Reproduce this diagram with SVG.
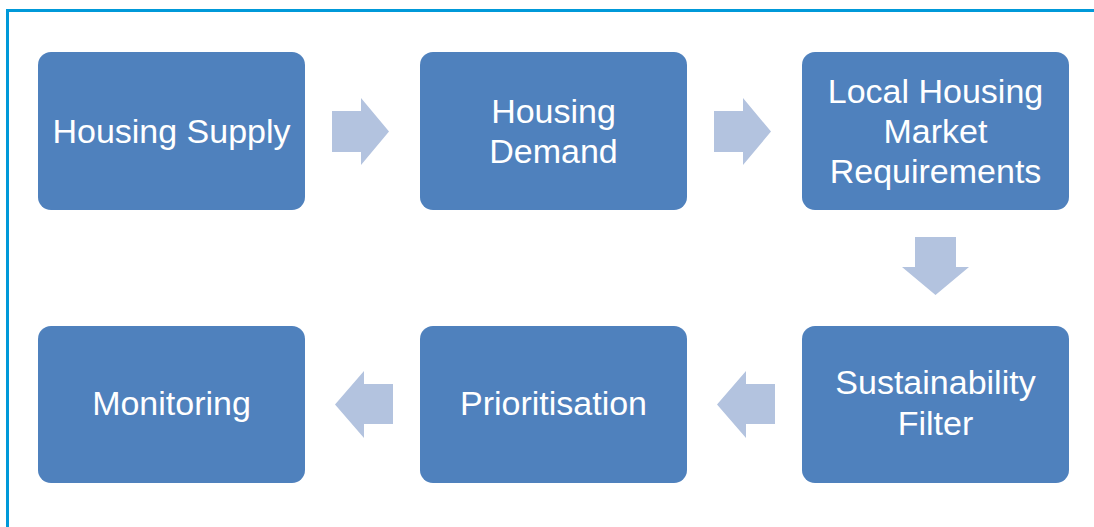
<svg xmlns="http://www.w3.org/2000/svg" width="1094" height="527" viewBox="0 0 1094 527">
<style>
.box{fill:#4F81BD;}
.arr{fill:#B3C3DF;}
.t{fill:#FFFFFF;font-family:"Liberation Sans",Arial,sans-serif;font-size:34px;text-anchor:middle;}
</style>
<rect width="1094" height="527" fill="#FFFFFF"/>
<path d="M7.5,527 V10.5 H1094" fill="none" stroke="#0099D9" stroke-width="3"/>
<g id="connectors">
<polygon class="arr" points="332,111 361,111 361,98 389,131.5 361,165 361,152 332,152"/>
<polygon class="arr" points="714,111 743,111 743,98 771,131.5 743,165 743,152 714,152"/>
<polygon class="arr" points="915,237 956,237 956,267 969,267 935.5,295 902,267 915,267"/>
<polygon class="arr" points="775,384 746,384 746,371 717,404.5 746,438 746,424 775,424"/>
<polygon class="arr" points="393,384 364,384 364,371 335,404.5 364,438 364,424 393,424"/>
</g>
<g id="node-housing-supply">
<rect class="box" x="38" y="52" width="267" height="158" rx="13"/>
<text class="t" x="171.5" y="143">Housing Supply</text>
</g>
<g id="node-housing-demand">
<rect class="box" x="420" y="52" width="267" height="158" rx="13"/>
<text class="t" x="553.5" y="123">Housing</text>
<text class="t" x="553.5" y="163">Demand</text>
</g>
<g id="node-local-housing">
<rect class="box" x="802" y="52" width="267" height="158" rx="13"/>
<text class="t" x="935.5" y="103">Local Housing</text>
<text class="t" x="935.5" y="143">Market</text>
<text class="t" x="935.5" y="183">Requirements</text>
</g>
<g id="node-sustainability">
<rect class="box" x="802" y="326" width="267" height="157" rx="13"/>
<text class="t" x="935.5" y="394">Sustainability</text>
<text class="t" x="935.5" y="435">Filter</text>
</g>
<g id="node-prioritisation">
<rect class="box" x="420" y="326" width="267" height="157" rx="13"/>
<text class="t" x="553.5" y="415">Prioritisation</text>
</g>
<g id="node-monitoring">
<rect class="box" x="38" y="326" width="267" height="157" rx="13"/>
<text class="t" x="171.5" y="415">Monitoring</text>
</g>
</svg>
